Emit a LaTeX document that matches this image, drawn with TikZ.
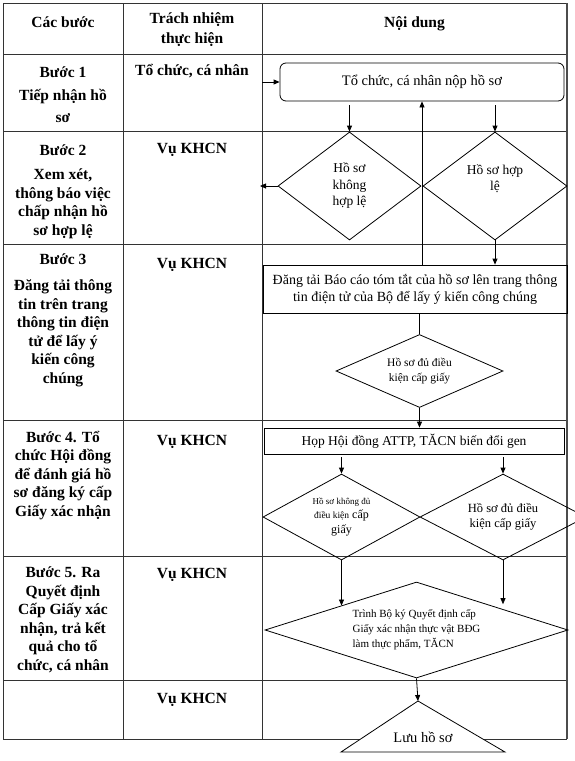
\documentclass[tikz,border=0pt]{standalone}
\usepackage{fontspec}
\setmainfont{Liberation Serif}
\usetikzlibrary{shapes.geometric,arrows.meta,positioning}

\begin{document}
\begin{tikzpicture}[x=1pt,y=-1pt,
  cell/.style={font=\fontsize{15.5}{18.5}\selectfont\bfseries, align=center, anchor=base, inner sep=0pt},
  box/.style={draw, line width=0.8pt, inner sep=0pt, align=center, font=\fontsize{13.5}{17}\selectfont},
  dia/.style={draw, diamond, line width=0.8pt, inner sep=0pt, align=center},
  arr/.style={line width=0.8pt, -{Triangle[length=6pt,width=5pt]}}]
  \useasboundingbox (0,0) rectangle (575,761);

  % Table grid
  \foreach \y in {3,54,131,244,420,556,680,739}
    \draw[line width=0.9pt, black!80] (3,\y) -- (567,\y);
  \foreach \x in {3,123,262}
    \draw[line width=0.9pt, black!80] (\x,3) -- (\x,739);
  \draw[line width=1.5pt, black!70] (567,3) -- (567,739); % right border

  % Header (base = last line)
  \node[cell] (hBuoc) at (63,27) {Các bước};
  \node[cell] (hTrach) at (192,43) {Trách nhiệm\\[1.5pt]thực hiện};
  \node[cell] (hNoi) at (414.5,27) {Nội dung};

  % Steps
  \node[cell] (b1) at (63,122) {Bước 1\\[5pt]Tiếp nhận hồ\\[3pt]sơ};
  \node[cell] (b2) at (63,235) {Bước 2\\[6pt]Xem xét,\\thông báo việc\\chấp nhận hồ\\sơ hợp lệ};
  \node[cell] (b3) at (63,383) {Bước 3\\[8pt]Đăng tải thông\\tin trên trang\\thông tin điện\\tử để lấy ý\\kiến công\\chúng};
  \node[cell] (b4) at (63,516) {Bước 4. Tổ\\chức Hội đồng\\để đánh giá hồ\\sơ đăng ký cấp\\Giấy xác nhận};
  \node[cell] (b5) at (63,670) {Bước 5. Ra\\Quyết định\\Cấp Giấy xác\\nhận, trả kết\\quả cho tổ\\chức, cá nhân};

  % Responsible
  \node[cell] (t1) at (192,75) {Tổ chức, cá nhân};
  \node[cell] (t2) at (192,153) {Vụ KHCN};
  \node[cell] (t3) at (192,268) {Vụ KHCN};
  \node[cell] (t4) at (192,445) {Vụ KHCN};
  \node[cell] (t5) at (192,578) {Vụ KHCN};
  \node[cell] (t6) at (192,703) {Vụ KHCN};

  % Flow
  \node[box, rounded corners=6pt, font=\fontsize{14.5}{17}\selectfont, minimum width=284pt, minimum height=38pt] (nop) at (422,82) {Tổ chức, cá nhân nộp hồ sơ};
  \node[dia, font=\fontsize{13.5}{16.5}\selectfont, minimum width=143pt, minimum height=108pt] (khong) at (349.5,186) {Hồ sơ\\không\\hợp lệ};
  \node[dia, aspect=1.4, font=\fontsize{13.5}{16.5}\selectfont, minimum width=144pt, minimum height=108pt] (hopLe) at (495,186) {Hồ sơ hợp\\lệ\\\mbox{}};
  \node[box, font=\fontsize{14}{17}\selectfont, minimum width=304pt, minimum height=48pt] (dangTai) at (415,289) {Đăng tải Báo cáo tóm tắt của hồ sơ lên trang thông\\tin điện tử của Bộ để lấy ý kiến công chúng};
  \node[dia, aspect=2, font=\fontsize{11.5}{15}\selectfont, minimum width=167pt, minimum height=73pt] (duDK) at (419.5,371) {Hồ sơ đủ điều\\kiện cấp giấy};
  \node[box, minimum width=300pt, minimum height=26pt] (hop) at (414,441) {Họp Hội đồng ATTP, TĂCN biến đổi gen};
  \node[dia, aspect=2, font=\fontsize{12}{14.5}\selectfont, minimum width=157pt, minimum height=86pt] (khongDu) at (341.5,517) {{\fontsize{9}{14.5}\selectfont Hồ sơ không đủ}\\{\fontsize{9.5}{14.5}\selectfont điều kiện} cấp\\giấy};
  \node[dia, aspect=2, font=\fontsize{12.5}{15}\selectfont, minimum width=166pt, minimum height=86pt] (duDu) at (503,517) {Hồ sơ đủ điều\\kiện cấp giấy};
  \node[dia, aspect=3, align=left, font=\fontsize{11}{15}\selectfont, minimum width=303pt, minimum height=96pt] (trinh) at (416.5,630) {Trình Bộ ký Quyết định cấp\\Giấy xác nhận thực vật BĐG\\làm thực phẩm, TĂCN};

  % Archive
  \coordinate (luuTop) at (418,701);
  \draw[line width=0.8pt, fill=white] (341,752) -- (luuTop) -- (505,752) -- cycle;
  \node[font=\fontsize{14.5}{17}\selectfont, anchor=base, inner sep=0pt] (luu) at (423,742) {Lưu hồ sơ};

  % Connectors
  \coordinate (vao) at (262,82);
  \coordinate (traLai) at (260,186);
  \draw[arr] (vao) -- (nop.west);
  \draw[arr] ([yshift=-4pt]nop.south -| khong.north) -- (khong.north);
  \draw[arr] ([yshift=-4pt]nop.south -| hopLe.north) -- (hopLe.north);
  \draw[arr] (khong.west) -- (traLai);
  \draw[arr] (hopLe.south) -- (hopLe.south |- dangTai.north);
  \draw[arr] (dangTai.north -| nop.south) -- (nop.south);
  \draw[line width=0.8pt] (dangTai.south -| duDK.north) -- (duDK.north);
  \draw[arr] (duDK.south) -- (duDK.south |- hop.north);
  \draw[arr] ([yshift=-3pt]hop.south -| khongDu.north) -- (khongDu.north);
  \draw[arr] ([yshift=-3pt]hop.south -| duDu.north) -- (duDu.north);
  \draw[arr] (khongDu.south) -- (khongDu.south |- trinh.162);
  \draw[arr] (duDu.south) -- (duDu.south |- trinh.20);
  \draw[arr] (trinh.south) -- (luuTop);
\end{tikzpicture}
\end{document}
